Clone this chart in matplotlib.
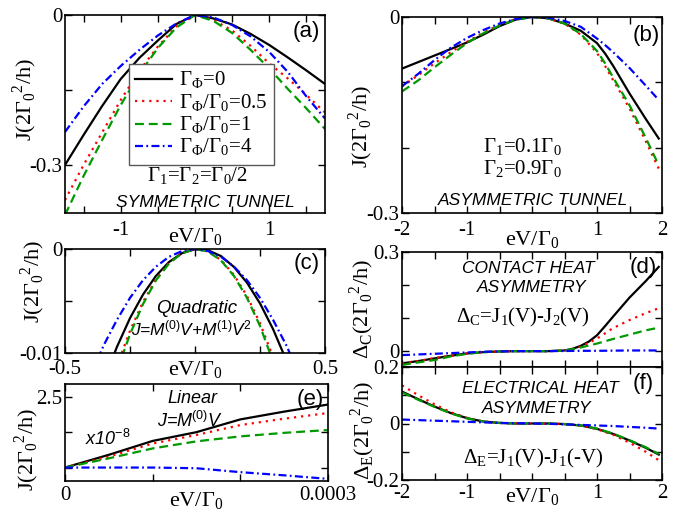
import matplotlib
matplotlib.use('Agg')
import matplotlib.pyplot as plt

plt.rcParams['font.family'] = ['Liberation Serif', 'DejaVu Serif']
plt.rcParams['mathtext.fontset'] = 'custom'
plt.rcParams['mathtext.rm'] = 'Liberation Serif'
plt.rcParams['mathtext.it'] = 'Liberation Sans:italic'
plt.rcParams['mathtext.sf'] = 'Liberation Sans'
plt.rcParams['mathtext.bf'] = 'Liberation Serif:bold'

# ---------------- data ----------------
series_labels = ["$\\Gamma_\\Phi$=0", "$\\Gamma_\\Phi/\\Gamma_0$=0.5",
                 "$\\Gamma_\\Phi/\\Gamma_0$=1", "$\\Gamma_\\Phi/\\Gamma_0$=4"]

# (a) symmetric tunnel
V_a = [-1.75, -1.5, -1.25, -1.0, -0.75, -0.5, -0.25, 0.0, 0.25, 0.5, 0.75, 1.0, 1.25, 1.5, 1.75]
Ja_0 = [-0.300, -0.240, -0.182, -0.128, -0.086, -0.051, -0.018, 0.0, -0.007, -0.019, -0.038, -0.060, -0.085, -0.111, -0.138]
Ja_05 = [-0.370, -0.300, -0.235, -0.170, -0.112, -0.063, -0.023, 0.0, -0.010, -0.031, -0.062, -0.097, -0.127, -0.160, -0.195]
Ja_1 = [-0.400, -0.322, -0.250, -0.180, -0.118, -0.066, -0.025, 0.0, -0.012, -0.036, -0.070, -0.107, -0.148, -0.187, -0.228]
Ja_4 = [-0.234, -0.183, -0.138, -0.102, -0.070, -0.041, -0.017, 0.0, -0.005, -0.020, -0.043, -0.074, -0.114, -0.163, -0.207]

# (b) asymmetric tunnel
V_b = [-2.0, -1.75, -1.5, -1.25, -1.0, -0.75, -0.5, -0.25, 0.0, 0.25, 0.5, 0.75, 1.0, 1.125, 1.25, 1.375, 1.5, 1.75, 1.95]
Jb_0 = [-0.079, -0.069, -0.059, -0.049, -0.039, -0.027, -0.014, -0.004, 0.0, -0.002, -0.010, -0.021, -0.040, -0.056, -0.075, -0.096, -0.117, -0.156, -0.186]
Jb_05 = [-0.106, -0.089, -0.071, -0.054, -0.038, -0.024, -0.012, -0.003, 0.0, -0.002, -0.010, -0.027, -0.055, -0.075, -0.097, -0.118, -0.140, -0.190, -0.232]
Jb_1 = [-0.114, -0.097, -0.077, -0.058, -0.040, -0.025, -0.013, -0.004, 0.0, -0.002, -0.010, -0.026, -0.052, -0.071, -0.093, -0.114, -0.135, -0.185, -0.227]
Jb_4 = [-0.106, -0.087, -0.066, -0.047, -0.032, -0.020, -0.010, -0.003, 0.0, -0.001, -0.006, -0.015, -0.033, -0.043, -0.054, -0.066, -0.078, -0.105, -0.127]

# (c) quadratic regime
V_c = [-0.4, -0.35, -0.3, -0.25, -0.2, -0.15, -0.1, -0.05, 0.0, 0.05, 0.1, 0.15, 0.2, 0.25, 0.3, 0.35, 0.4]
Jc_0 = [-0.0163, -0.0126, -0.0094, -0.00665, -0.00438, -0.00258, -0.00125, -0.0004, -0.00002, -0.00012, -0.00068, -0.00173, -0.00324, -0.00523, -0.00769, -0.01063, -0.0140]
Jc_05 = [-0.0198, -0.0152, -0.01124, -0.00786, -0.0051, -0.00292, -0.00135, -0.00038, 0.0, -0.00023, -0.00106, -0.00249, -0.00452, -0.00714, -0.01037, -0.0142, -0.0186]
Jc_1 = [-0.0206, -0.0158, -0.0117, -0.0082, -0.0053, -0.0030, -0.0014, -0.0004, 0.0, -0.00024, -0.0011, -0.0026, -0.0047, -0.0074, -0.0108, -0.0148, -0.0194]
Jc_4 = [-0.0120, -0.0092, -0.0068, -0.0047, -0.0030, -0.0017, -0.00075, -0.0002, 0.0, -0.0002, -0.00075, -0.0017, -0.0030, -0.0047, -0.0068, -0.0092, -0.0120]

# (d) contact heat asymmetry
V_d = [-2.0, -1.75, -1.5, -1.25, -1.0, -0.75, -0.5, -0.25, 0.0, 0.25, 0.5, 0.625, 0.75, 0.875, 1.0, 1.125, 1.25, 1.5, 1.75, 1.95]
Dc_0 = [-0.037, -0.030, -0.022, -0.014, -0.007, -0.003, -0.001, 0.0, 0.0, 0.0, 0.002, 0.007, 0.016, 0.029, 0.048, 0.076, 0.105, 0.162, 0.212, 0.255]
Dc_05 = [-0.036, -0.030, -0.021, -0.014, -0.007, -0.003, -0.001, 0.0, 0.0, 0.0, 0.002, 0.007, 0.014, 0.025, 0.038, 0.054, 0.070, 0.094, 0.115, 0.130]
Dc_1 = [-0.042, -0.034, -0.027, -0.016, -0.008, -0.003, -0.001, 0.0, 0.0, 0.0, 0.002, 0.006, 0.011, 0.017, 0.023, 0.030, 0.037, 0.050, 0.063, 0.071]
Dc_4 = [-0.012, -0.010, -0.008, -0.006, -0.004, -0.002, -0.001, 0.0, 0.0, 0.0, 0.0005, 0.0007, 0.001, 0.001, 0.001, 0.0012, 0.0015, 0.002, 0.002, 0.002]

# (f) electrical heat asymmetry
V_f = [-2.0, -1.75, -1.5, -1.25, -1.0, -0.75, -0.5, -0.25, 0.0, 0.25, 0.5, 0.75, 1.0, 1.25, 1.5, 1.75, 1.95]
De_0 = [0.113, 0.086, 0.060, 0.037, 0.019, 0.007, 0.002, 0.0, 0.0, 0.0, -0.002, -0.007, -0.019, -0.037, -0.060, -0.086, -0.110]
De_05 = [0.135, 0.100, 0.068, 0.040, 0.020, 0.007, 0.002, 0.0, 0.0, 0.0, -0.002, -0.007, -0.020, -0.040, -0.068, -0.100, -0.130]
De_1 = [0.110, 0.084, 0.059, 0.036, 0.018, 0.007, 0.002, 0.0, 0.0, 0.0, -0.002, -0.007, -0.018, -0.036, -0.059, -0.084, -0.108]
De_4 = [0.014, 0.012, 0.010, 0.008, 0.006, 0.004, 0.002, 0.001, 0.0, -0.001, -0.003, -0.005, -0.007, -0.009, -0.012, -0.015, -0.018]

# (e) linear regime (x1e-8)
V_e = [0.0, 0.5e-4, 1.0e-4, 1.5e-4, 2.0e-4, 2.5e-4, 3.0e-4]
Je_0 = [1.50, 1.68, 1.876, 2.00, 2.18, 2.29, 2.39]
Je_05 = [1.50, 1.655, 1.84, 1.96, 2.10, 2.19, 2.27]
Je_1 = [1.50, 1.63, 1.77, 1.87, 1.94, 1.99, 2.03]
Je_4 = [1.50, 1.50, 1.50, 1.49, 1.435, 1.39, 1.34]

# ticks
xt_a = [-1.5, -1.0, -0.5, 0.0, 0.5, 1.0, 1.5]
xl_a = ["", "-1", "", "", "", "1", ""]
yt_a = [-0.3, -0.15, 0.0]
yl_a = ["-0.3", "", "0"]
xt_b = [-2, -1.5, -1, -0.5, 0, 0.5, 1, 1.5, 2]
xl_b = ["-2", "", "-1", "", "", "", "1", "", "2"]
yt_b = [-0.3, -0.2, -0.1, 0.0]
yl_b = ["-0.3", "", "", "0"]
xt_c = [-0.5, -0.25, 0.0, 0.25, 0.5]
xl_c = ["-0.5", "", "", "", "0.5"]
yt_c = [-0.01, -0.005, 0.0]
yl_c = ["-0.01", "", "0"]
yt_d = [0.0, 0.1, 0.2, 0.3]
yl_d = ["0", "", "", "0.3"]
yt_f = [-0.2, -0.1, 0.0, 0.1, 0.2]
yl_f = ["-0.2", "", "0", "", "0.2"]
xt_e = [0.0, 1e-4, 2e-4, 3e-4]
xl_e = ["0", "", "", "0.0003"]
yt_e = [1.5, 2.0, 2.5]
yl_e = ["", "", "2.5"]

# ---------------- figure ----------------
W, H = 697, 515
fig = plt.figure(figsize=(W / 100, H / 100), dpi=100)


def box(l, t, r, b):
    return [l / W, 1 - b / H, (r - l) / W, (b - t) / H]


axA = fig.add_axes(box(65, 15, 325, 213))
axB = fig.add_axes(box(402, 17, 662, 213))
axC = fig.add_axes(box(65, 249, 325, 353))
axD = fig.add_axes(box(402, 252, 662, 367))
axF = fig.add_axes(box(402, 367, 662, 480))
axE = fig.add_axes(box(65, 384, 328, 481))

STY = [dict(color='black', ls='-'),
       dict(color='red', ls=(0, (1, 2.2))),
       dict(color='#009a00', ls=(0, (4, 2.2))),
       dict(color='blue', ls=(0, (3.6, 1.5, 0.8, 1.5)))]
LW = 1.6


def draw(ax, x, ys, labels=None):
    for i, y in enumerate(ys):
        ax.plot(x, y, lw=LW, label=(labels[i] if labels else None), **STY[i])


draw(axA, V_a, [Ja_0, Ja_05, Ja_1, Ja_4], series_labels)
draw(axB, V_b, [Jb_0, Jb_05, Jb_1, Jb_4])
draw(axC, V_c, [Jc_0, Jc_05, Jc_1, Jc_4])
draw(axD, V_d, [Dc_0, Dc_05, Dc_1, Dc_4])
draw(axF, V_f, [De_0, De_05, De_1, De_4])
draw(axE, V_e, [Je_0, Je_05, Je_1, Je_4])

TICK_FS = 15


def setup(ax, xlim, ylim, xt, xl, yt, yl, xpad):
    ax.set_xlim(*xlim)
    ax.set_ylim(*ylim)
    ax.set_xticks(xt)
    ax.set_xticklabels(xl)
    ax.set_yticks(yt)
    ax.set_yticklabels(yl)
    ax.tick_params(direction='in', top=True, right=True, length=5, width=1,
                   labelsize=TICK_FS)
    ax.tick_params(axis='x', pad=xpad)
    ax.tick_params(axis='y', pad=2.0)
    for s in ax.spines.values():
        s.set_linewidth(1.2)


setup(axA, (-1.75, 1.75), (-0.396, 0.0), xt_a, xl_a, yt_a, yl_a, 6.0)
setup(axB, (-2, 2), (-0.3, 0.0), xt_b, xl_b, yt_b, yl_b, 6.0)
setup(axC, (-0.5, 0.5), (-0.01, 0.0), xt_c, xl_c, yt_c, yl_c, 5.0)
setup(axD, (-2, 2), (-0.048, 0.3), xt_b, [""] * len(xt_b), yt_d, yl_d, 4)
setup(axF, (-2, 2), (-0.2, 0.2), xt_b, xl_b, yt_f, yl_f, 3.0)
setup(axE, (0, 3e-4), (1.31, 2.68), xt_e, xl_e, yt_e, yl_e, 3.6)

ylab_J = "J(2$\\Gamma_0{}^2$/h)"
ylab_C = "$\\Delta_\\mathrm{C}$(2$\\Gamma_0{}^2$/h)"
ylab_E = "$\\Delta_\\mathrm{E}$(2$\\Gamma_0{}^2$/h)"
xlab = "eV/$\\Gamma_0$"

for ax, yl, (lx, ly), xy in [
        (axA, ylab_J, (-0.154, 0.571), -0.150),
        (axB, ylab_J, (-0.158, 0.439), -0.165),
        (axC, ylab_J, (-0.123, 0.683), -0.215),
        (axD, ylab_C, (-0.154, 0.504), None),
        (axF, ylab_E, (-0.150, 0.442), -0.195),
        (axE, ylab_J, (-0.144, 0.330), -0.262)]:
    ax.set_ylabel(yl, fontsize=16)
    ax.yaxis.label.set_va('center')
    ax.yaxis.label.set_ha('center')
    ax.yaxis.set_label_coords(lx, ly)
    if xy is not None:
        ax.set_xlabel(xlab, fontsize=16)
        ax.xaxis.label.set_va('baseline')
        ax.xaxis.set_label_coords(0.5, xy)

leg = axA.legend(loc='upper left', bbox_to_anchor=(0.246, 0.753), frameon=True,
                 fancybox=False, edgecolor='0.35', framealpha=1, fontsize=15,
                 handlelength=1.75, handletextpad=0.35, labelspacing=0.05,
                 borderpad=0.3, borderaxespad=0)
leg.get_frame().set_linewidth(1.0)


def ftext(x, y, s, **kw):
    kw.setdefault('ha', 'center')
    kw.setdefault('va', 'baseline')
    fig.text(x / W, 1 - y / H, s, **kw)


SANS_IT = dict(family='Liberation Sans', style='italic')
SANS = dict(family='Liberation Sans')

# panel letters
ftext(306, 31, "(a)", va='center', fontsize=16, **SANS)
ftext(646, 35, "(b)", va='center', fontsize=16, **SANS)
ftext(307, 264, "(c)", va='center', fontsize=16, **SANS)
ftext(643, 268, "(d)", va='center', fontsize=16, **SANS)
ftext(310, 399, "(e)", va='center', fontsize=16, **SANS)
ftext(643, 384, "(f)", va='center', fontsize=16, **SANS)

# annotations
ftext(197, 182, "$\\Gamma_1$=$\\Gamma_2$=$\\Gamma_0$/2", fontsize=15)
ftext(205, 207, "SYMMETRIC TUNNEL", fontsize=12.5, **SANS_IT)
ftext(522, 153, "$\\Gamma_1$=0.1$\\Gamma_0$", fontsize=15)
ftext(522, 175, "$\\Gamma_2$=0.9$\\Gamma_0$", fontsize=15)
ftext(533, 205, "ASYMMETRIC TUNNEL", fontsize=12.5, **SANS_IT)
ftext(197, 313, "Quadratic", fontsize=13.5, **SANS_IT)
ftext(191, 335, "J=M$^{\\mathsf{(0)}}$V+M$^{\\mathsf{(1)}}$V$^{\\mathsf{2}}$", fontsize=12.5, **SANS_IT)
ftext(528, 273, "CONTACT HEAT", fontsize=12.5, **SANS_IT)
ftext(532, 292, "ASYMMETRY", fontsize=12.5, **SANS_IT)
ftext(523, 322, "$\\Delta_\\mathrm{C}$=J$_1$(V)-J$_2$(V)", fontsize=15)
ftext(192, 403, "Linear", fontsize=13, **SANS_IT)
ftext(190, 427, "J=M$^{\\mathsf{(0)}}$V", fontsize=13, **SANS_IT)
ftext(108, 445, "x10$^{\\mathsf{-8}}$", fontsize=13, **SANS_IT)
ftext(540, 393, "ELECTRICAL HEAT", fontsize=12.5, **SANS_IT)
ftext(537, 413, "ASYMMETRY", fontsize=12.5, **SANS_IT)
ftext(533, 463, "$\\Delta_\\mathrm{E}$=J$_1$(V)-J$_1$(-V)", fontsize=15)

fig.savefig('out.png', dpi=100)
